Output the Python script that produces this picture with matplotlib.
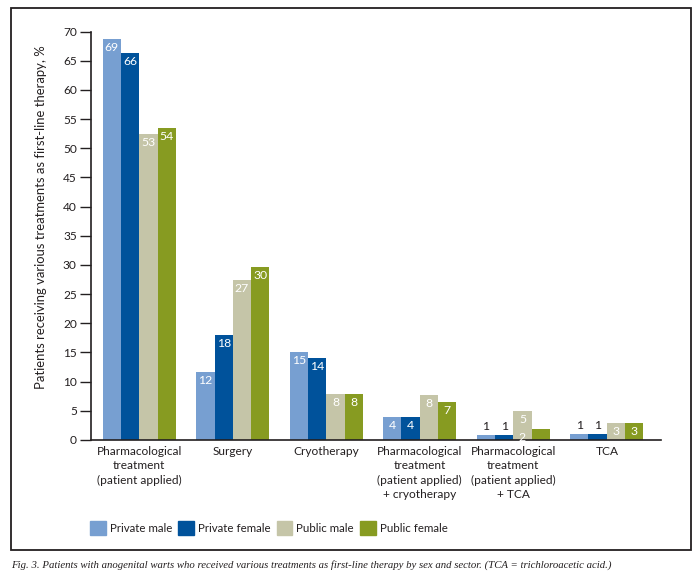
import numpy as np
import matplotlib.pyplot as plt
from matplotlib.patches import Rectangle, Patch

plt.rcParams['font.family'] = ['Lato', 'DejaVu Sans']

categories = ['Pharmacological\ntreatment\n(patient applied)', 'Surgery', 'Cryotherapy',
              'Pharmacological\ntreatment\n(patient applied)\n+ cryotherapy',
              'Pharmacological\ntreatment\n(patient applied)\n+ TCA', 'TCA']
series = ['Private male', 'Private female', 'Public male', 'Public female']
colors = ['#779fd1', '#00529b', '#c5c5a8', '#879b21']

private_male = [68.7, 11.7, 15.1, 3.9, 0.9, 1.0]
private_female = [66.3, 18.0, 14.1, 3.9, 0.9, 1.0]
public_male = [52.5, 27.4, 7.9, 7.7, 5.0, 2.9]
public_female = [53.5, 29.7, 7.9, 6.5, 1.9, 2.9]

lab_private_male = ['69', '12', '15', '4', '1', '1']
lab_private_female = ['66', '18', '14', '4', '1', '1']
lab_public_male = ['53', '27', '8', '8', '5', '3']
lab_public_female = ['54', '30', '8', '7', '2', '3']

values = [private_male, private_female, public_male, public_female]
labels = [lab_private_male, lab_private_female, lab_public_male, lab_public_female]

ink = '#231f20'

fig = plt.figure(figsize=(7, 5.8), dpi=100)
ax = fig.add_axes([0.1296, 0.2414, 0.8147, 0.704])

x = np.arange(len(categories))
w = 0.196
for i in range(4):
    xs = x + (i - 1.5) * w
    ax.bar(xs, values[i], w, color=colors[i], label=series[i])
    for j, (v, t) in enumerate(zip(values[i], labels[i])):
        xx = xs[j]
        # the "2" of the last-but-one group sits inside the public male bar
        if i == 3 and j == 4:
            xx = xs[j] - w
        if v < 1.5:
            ax.annotate(t, (xx, v), xytext=(0, 2), textcoords='offset points',
                        ha='center', va='bottom', color=ink, fontsize=8.8)
        else:
            ax.annotate(t, (xx, v), xytext=(0, -2), textcoords='offset points',
                        ha='center', va='top', color='white', fontsize=8.8)

ax.set_xlim(-0.52, 5.58)
ax.set_ylim(0, 70)
ax.set_yticks(range(0, 71, 5))
ax.set_xticks(x)
ax.set_xticklabels(categories, fontsize=8.6, color=ink, linespacing=1.4)
ax.tick_params(axis='x', length=0, pad=4)
ax.tick_params(axis='y', length=8, width=1, labelsize=8.6, colors=ink, pad=2)
for s in ['top', 'right']:
    ax.spines[s].set_visible(False)
for s in ['left', 'bottom']:
    ax.spines[s].set_linewidth(1.2)
    ax.spines[s].set_color(ink)

ax.set_ylabel('Patients receiving various treatments as first-line therapy, %',
              fontsize=9.4, color=ink)
ax.yaxis.set_label_coords(-0.077, 0.546)

handles = [Patch(color=c) for c in colors]
fig.legend(handles, series, loc='center left', bbox_to_anchor=(90 / 700, 1 - 528 / 580),
           ncol=4, frameon=False, fontsize=8.3, handlelength=1.35, handleheight=1.45,
           handletextpad=0.35, columnspacing=0.55, borderpad=0, borderaxespad=0,
           labelcolor=ink)

fig.patches.append(Rectangle((11 / 700, 1 - 550 / 580), 680 / 700, 542 / 580,
                             transform=fig.transFigure, fill=False,
                             edgecolor=ink, linewidth=1.3))

fig.text(11 / 700, 1 - 565 / 580,
         'Fig. 3. Patients with anogenital warts who received various treatments as first-line '
         'therapy by sex and sector. (TCA = trichloroacetic acid.)',
         family='Liberation Serif', style='italic', fontsize=7.75, color=ink, va='center')

fig.savefig('out.png', dpi=100)
